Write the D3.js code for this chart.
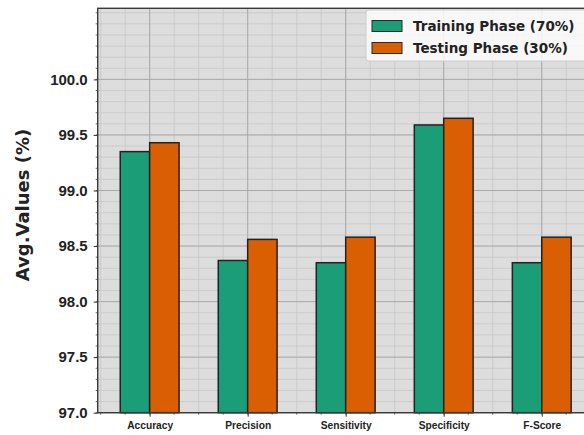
<!DOCTYPE html>
<html>
<head>
<meta charset="utf-8">
<script src="https://cdn.jsdelivr.net/npm/d3@7"></script>
<style>
  html, body { margin: 0; padding: 0; background: #ffffff; }
  svg { display: block; font-family: "DejaVu Sans", sans-serif; }
</style>
</head>
<body>
<svg id="chart" width="584" height="435"></svg>
<script>
// Metric names along the x axis
const categories = ["Accuracy", "Precision", "Sensitivity", "Specificity", "F-Score"];
// Average values (%) per phase
const trainingValues = [99.35, 98.37, 98.35, 99.59, 98.35];
const testingValues = [99.43, 98.56, 98.58, 99.65, 98.58];
const seriesNames = ["Training Phase (70%)", "Testing Phase (30%)"];
const seriesColors = ["#1b9e77", "#d95f02"];
// Y axis tick labels
const yTicks = [97.0, 97.5, 98.0, 98.5, 99.0, 99.5, 100.0];

(function () {
  const svg = d3.select("#chart");
  const pLeft = 97.7, pRight = 593.7, pTop = 8.3, pBottom = 412.7;
  const barWidth = 0.3;

  const x = d3.scaleLinear().domain([-0.53, categories.length - 1 + 0.53]).range([pLeft, pRight]);
  const y = d3.scaleLinear().domain([97.0, 100.64]).range([pBottom, pTop]);

  // plot background
  svg.append("rect")
    .attr("x", pLeft).attr("y", pTop)
    .attr("width", pRight - pLeft).attr("height", pBottom - pTop)
    .attr("fill", "#dddddd");

  const grid = svg.append("g");
  // minor grid
  const yMinor = d3.range(97.0, 100.64, 0.1).map(v => +v.toFixed(2));
  const xMinor = d3.range(-0.5, categories.length + 0.5, 0.25);
  grid.append("g").selectAll("line").data(yMinor).join("line")
    .attr("x1", pLeft).attr("x2", pRight)
    .attr("y1", d => y(d)).attr("y2", d => y(d))
    .attr("stroke", "#c4c4c4").attr("stroke-width", 0.7);
  grid.append("g").selectAll("line").data(xMinor).join("line")
    .attr("y1", pTop).attr("y2", pBottom)
    .attr("x1", d => x(d)).attr("x2", d => x(d))
    .attr("stroke", "#c4c4c4").attr("stroke-width", 0.7);
  // major grid
  grid.append("g").selectAll("line").data(yTicks).join("line")
    .attr("x1", pLeft).attr("x2", pRight)
    .attr("y1", d => y(d)).attr("y2", d => y(d))
    .attr("stroke", "#a6a6a6").attr("stroke-width", 0.9);
  grid.append("g").selectAll("line").data(d3.range(categories.length)).join("line")
    .attr("y1", pTop).attr("y2", pBottom)
    .attr("x1", d => x(d)).attr("x2", d => x(d))
    .attr("stroke", "#a6a6a6").attr("stroke-width", 0.9);

  // bars
  const series = [trainingValues, testingValues];
  series.forEach((vals, s) => {
    svg.append("g").selectAll("rect").data(vals).join("rect")
      .attr("x", (d, i) => x(i + (s === 0 ? -barWidth : 0)))
      .attr("width", x(barWidth) - x(0))
      .attr("y", d => y(d))
      .attr("height", d => y(97.0) - y(d))
      .attr("fill", seriesColors[s])
      .attr("stroke", "#222222")
      .attr("stroke-width", 1.5);
  });

  // axes
  const yAxis = d3.axisLeft(y).tickValues(yTicks).tickFormat(d3.format(".1f")).tickSize(4).tickPadding(6);
  const gy = svg.append("g").attr("transform", `translate(${pLeft},0)`).call(yAxis);
  gy.select(".domain").remove();
  gy.selectAll("text").attr("font-size", 15).attr("font-weight", "bold").attr("fill", "#222");
  gy.selectAll("line").attr("stroke", "#333");
  // minor y ticks
  svg.append("g").selectAll("line").data(yMinor).join("line")
    .attr("x1", pLeft - 2).attr("x2", pLeft)
    .attr("y1", d => y(d)).attr("y2", d => y(d))
    .attr("stroke", "#333").attr("stroke-width", 0.7);

  const xAxis = d3.axisBottom(x).tickValues(d3.range(categories.length))
    .tickFormat(i => categories[i]).tickSize(4).tickPadding(5);
  const gx = svg.append("g").attr("transform", `translate(0,${pBottom})`).call(xAxis);
  gx.select(".domain").remove();
  gx.selectAll("text").attr("font-size", 10.2).attr("font-weight", "bold").attr("fill", "#222");
  gx.selectAll("line").attr("stroke", "#333");
  svg.append("g").selectAll("line").data(xMinor).join("line")
    .attr("x1", d => x(d)).attr("x2", d => x(d))
    .attr("y1", pBottom).attr("y2", pBottom + 2)
    .attr("stroke", "#333").attr("stroke-width", 0.7);

  // frame
  svg.append("rect")
    .attr("x", pLeft).attr("y", pTop)
    .attr("width", pRight - pLeft).attr("height", pBottom - pTop)
    .attr("fill", "none").attr("stroke", "#3a3a3a").attr("stroke-width", 1.4);

  // y label
  svg.append("text")
    .attr("transform", `translate(29,205) rotate(-90)`)
    .attr("text-anchor", "middle")
    .attr("font-size", 18).attr("font-weight", "bold").attr("fill", "#222")
    .text("Avg.Values (%)");

  // legend
  const lg = svg.append("g");
  lg.append("rect")
    .attr("x", 366).attr("y", 10).attr("width", 240).attr("height", 51).attr("rx", 3)
    .attr("fill", "#ffffff").attr("fill-opacity", 0.8)
    .attr("stroke", "#cccccc");
  seriesNames.forEach((name, i) => {
    const cy = 26 + i * 22;
    lg.append("rect")
      .attr("x", 372).attr("y", cy - 5.5).attr("width", 30).attr("height", 11)
      .attr("fill", seriesColors[i]).attr("stroke", "#2a2a2a").attr("stroke-width", 1);
    lg.append("text")
      .attr("x", 413).attr("y", cy).attr("dy", "0.35em")
      .attr("font-size", 13.5).attr("font-weight", "bold").attr("fill", "#222")
      .text(name);
  });
})();
</script>
</body>
</html>
